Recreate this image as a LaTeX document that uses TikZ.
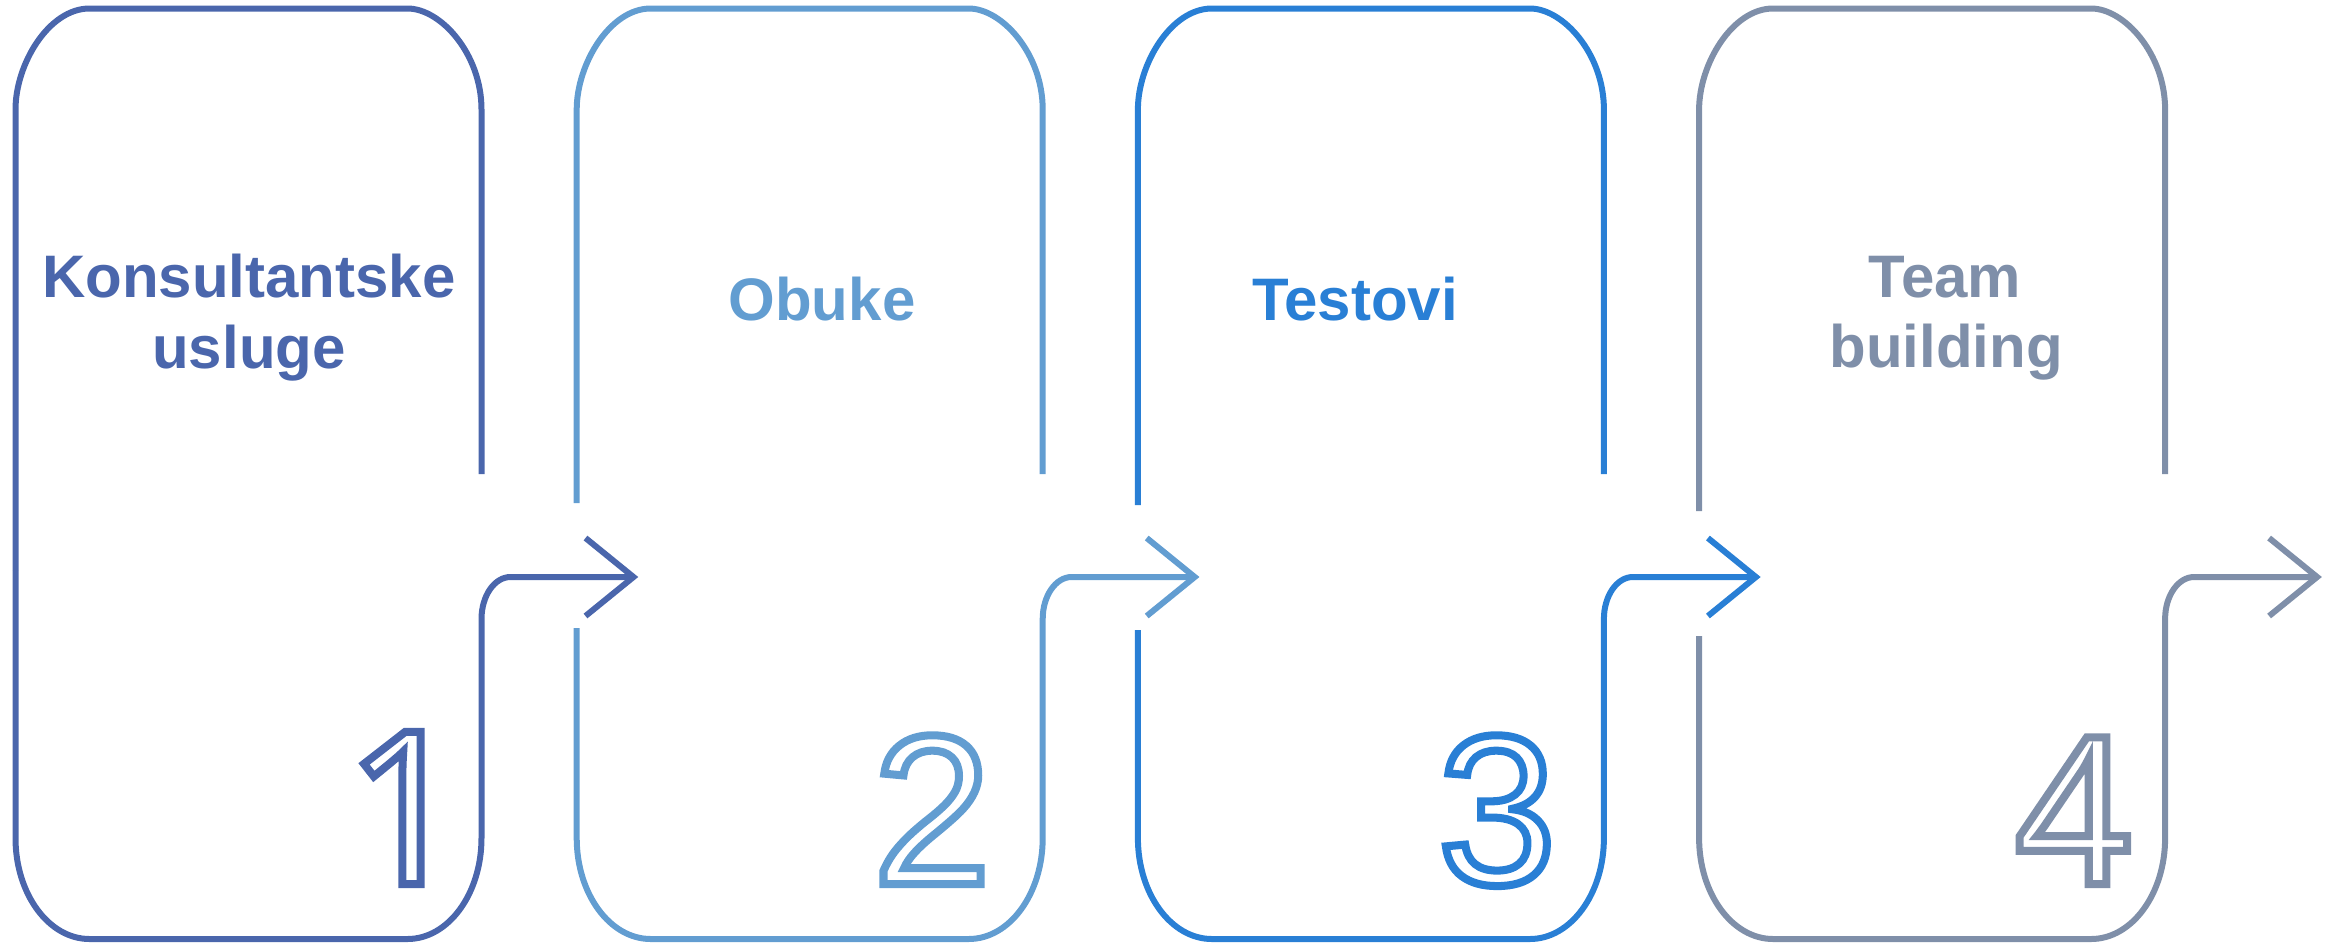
\documentclass[tikz,border=0pt]{standalone}
\usepackage{fontspec}
\setmainfont{Liberation Sans}
\newfontfamily\onefont{Noto Sans}
\definecolor{cA}{HTML}{4A66AC}
\definecolor{cB}{HTML}{629DD1}
\definecolor{cC}{HTML}{297FD5}
\definecolor{cD}{HTML}{7F8FA9}
\newcommand\outlinedigit[1]{\special{pdf:code q 1 Tr 8 w}#1\special{pdf:code Q}}
% #1 left x, #2 colour, #3 end y of upper left edge, #4 start y of lower left edge, #5 name
\newcommand\drawpanel[5]{%
  \begin{scope}[draw=#2, line width=6pt]
  \coordinate (#5tip) at ({#1+618},577);
  \draw ({#1+466},474) -- ({#1+466},109.5)
     .. controls ({#1+466},{109.5-0.5523*101}) and ({#1+466-0.5523*74},8.5) .. ({#1+392},8.5)
     -- ({#1+74},8.5)
     .. controls ({#1+74-0.5523*74},8.5) and (#1,{8.5+0.5523*101}) .. (#1,109.5)
     -- (#1,#3);
  \draw (#1,#4) -- (#1,838)
     .. controls (#1,{838+0.5523*101}) and ({#1+74-0.5523*74},939) .. ({#1+74},939)
     -- ({#1+392},939)
     .. controls ({#1+392+0.5523*74},939) and ({#1+466},{838+0.5523*101}) .. ({#1+466},838)
     -- ({#1+466},619)
     .. controls ({#1+466},{619-0.5523*42}) and ({#1+495-0.5523*29},577) .. ({#1+495},577)
     -- ([xshift=-3pt]#5tip);
  \draw[line join=miter, miter limit=10] ({#1+570},538) -- (#5tip) -- ({#1+570},616);
  \end{scope}}
\tikzset{
  title/.style={inner sep=0pt, anchor=base, font=\fontsize{60}{71}\selectfont\bfseries},
  digit/.style={inner sep=0pt, anchor=base, font=\fontsize{213}{213}\selectfont}
}
\begin{document}
\begin{tikzpicture}[x=1pt,y=-1pt]
\useasboundingbox (0,0) rectangle (2336,943);
\drawpanel{15.5}{cA}{570}{570}{p1}
\drawpanel{576.7}{cB}{503}{628}{p2}
\drawpanel{1137.9}{cC}{505}{630}{p3}
\drawpanel{1699.1}{cD}{511}{636}{p4}
\node[title, text=cA] (t1a) at (249,297) {Konsultantske};
\node[title, text=cA] (t1b) at (249,368) {usluge};
\node[title, text=cB] (t2) at (822,320) {Obuke};
\node[title, text=cC] (t3) at (1355,320) {Testovi};
\node[title, text=cD] (t4a) at (1945,297) {Team};
\node[title, text=cD] (t4b) at (1946,367) {building};
\node[digit, text=cA] (n1) at (406,884) {\onefont\outlinedigit{1}};
\node[digit, text=cB] (n2) at (932,884) {\outlinedigit{2}};
\node[digit, text=cC] (n3) at (1497,884) {\outlinedigit{3}};
\node[digit, text=cD] (n4) at (2074,884) {\outlinedigit{4}};
\end{tikzpicture}
\end{document}
